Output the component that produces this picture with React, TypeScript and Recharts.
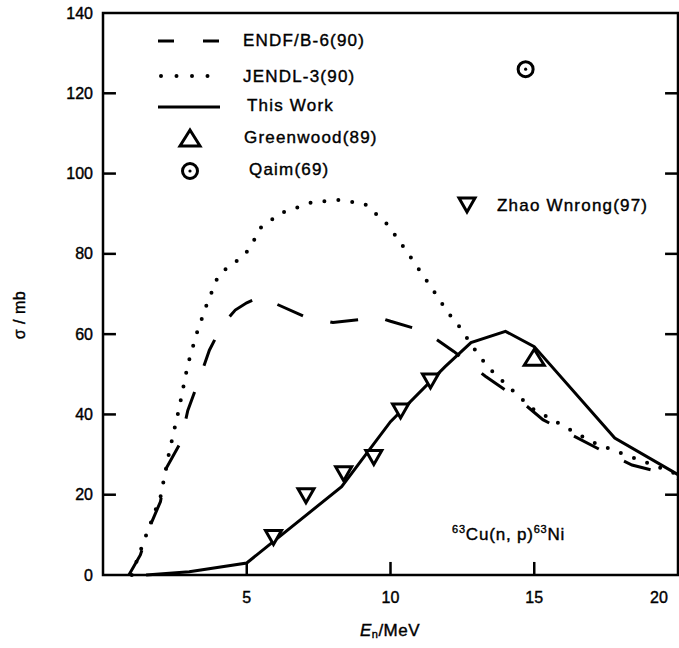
import React from 'react';
import { ComposedChart, Line, Scatter, XAxis, YAxis } from 'recharts';

// ENDF/B-6(90) evaluation
const endfE = [0.9, 1.3, 1.6, 2.0, 2.2, 2.7, 2.95, 3.3, 3.7, 4.15, 4.6, 5.0, 5.5, 6.0, 7.0, 8.0, 9.1, 9.5, 10.0, 11.2, 12.2, 13.3, 14.4, 15.3, 16.3, 17.4, 18.4, 19.5, 20];
const endfS = [0, 5, 11.6, 18.3, 26.6, 33, 41, 47.8, 56, 62.3, 66, 67.8, 69.4, 67.6, 64.4, 62.9, 63.8, 64.4, 63.2, 60.7, 55.7, 49.5, 44.1, 38.7, 34.9, 30.8, 27.4, 25.4, 24];

// JENDL-3(90) evaluation
const jendlE = [1.0, 1.4, 2.0, 2.3, 2.65, 2.95, 3.25, 3.6, 4.0, 4.4, 4.9, 5.2, 5.5, 6.2, 7.3, 8.2, 9.1, 9.9, 10.6, 11.3, 12.0, 12.4, 13.1, 13.5, 14.9, 17.0, 18.0, 18.9, 20];
const jendlS = [0, 8, 19.5, 30.5, 41.6, 52.4, 60, 67.2, 74.4, 77.1, 79.4, 82.7, 86.6, 90.2, 92.9, 93.4, 92.5, 87.3, 80.2, 72.9, 65.4, 61.8, 54.4, 51, 41.6, 33.2, 30.4, 28, 25];

// This Work
const workE = [1.5, 3, 5, 8.3, 10, 11.9, 12.8, 14, 15, 17.8, 20];
const workS = [0, 0.8, 3, 22, 38.2, 51.9, 57.9, 60.7, 56.9, 34.1, 25];

// Measurements
const greenE = [15.0];
const greenS = [54];
const qaimE = [14.7];
const qaimS = [126];
const zhaoE = [5.93, 7.06, 8.37, 9.42, 10.35, 11.39];
const zhaoS = [9.6, 20, 25.5, 29.5, 41.1, 48.6];

// axis range and tick values
const X_MIN = 0, X_MAX = 20, Y_MIN = 0, Y_MAX = 140;
const xInnerTicks = [5, 10, 15];
const yInnerTicks = [20, 40, 60, 80, 100, 120];
const X_TICK_LEN = 0.45; // x units (~13 px)
const Y_TICK_LEN = 3.25; // y units (~13 px)

const zip = (xs: number[], ys: number[]) => xs.map((x, i) => ({ x, y: ys[i] }));

const endf = zip(endfE, endfS);
const jendl = zip(jendlE, jendlS);
const work = zip(workE, workS);
const green = zip(greenE, greenS);
const qaim = zip(qaimE, qaimS);
const zhao = zip(zhaoE, zhaoS);

// plot frame and inward tick marks, expressed in data units
const frameBox = [
  { x: X_MIN, y: Y_MIN }, { x: X_MIN, y: Y_MAX }, { x: X_MAX, y: Y_MAX }, { x: X_MAX, y: Y_MIN }, { x: X_MIN, y: Y_MIN },
];
const tickSegs = [
  ...yInnerTicks.map((v) => [{ x: X_MIN, y: v }, { x: X_MIN + X_TICK_LEN, y: v }]),
  ...yInnerTicks.map((v) => [{ x: X_MAX - X_TICK_LEN, y: v }, { x: X_MAX, y: v }]),
  ...xInnerTicks.map((v) => [{ x: v, y: Y_MIN }, { x: v, y: Y_MIN + Y_TICK_LEN }]),
];

const FONT = '"Liberation Sans", Arial, Helvetica, sans-serif';
const INK = 'black';

function LeftTick(props: any) {
  const { x, y, payload } = props;
  return (
    <text x={x - 10} y={y} textAnchor="end" dominantBaseline="central" fontSize={16} fontFamily={FONT} fill="black" stroke="black" strokeWidth={0.4}>
      {payload.value}
    </text>
  );
}

function BottomTick(props: any) {
  const { x, y, payload } = props;
  const v = payload.value;
  if (v <= X_MIN) return <g />;
  return (
    <text x={v === X_MAX ? x - 12 : x} y={y + 22} textAnchor="middle" dominantBaseline="central" fontSize={16} fontFamily={FONT} fill="black" stroke="black" strokeWidth={0.4}>
      {v}
    </text>
  );
}

function DownTri(props: any) {
  const { cx, cy } = props;
  return <path d={`M${cx - 8},${cy - 6} L${cx + 8},${cy - 6} L${cx},${cy + 8} Z`} fill="#fff" stroke="black" strokeWidth={3} />;
}

function UpTri(props: any) {
  const { cx, cy } = props;
  return <path d={`M${cx - 10},${cy + 7} L${cx + 10},${cy + 7} L${cx},${cy - 9} Z`} fill="#fff" stroke="black" strokeWidth={3} />;
}

function CircDot(props: any) {
  const { cx, cy } = props;
  return (
    <g>
      <circle cx={cx} cy={cy} r={7.5} fill="#fff" stroke="black" strokeWidth={3} />
      <circle cx={cx} cy={cy} r={1.6} fill="black" />
    </g>
  );
}

const txt = { fontFamily: FONT, fontSize: 17, fill: INK, stroke: INK, strokeWidth: 0.4, letterSpacing: 1.2 } as const;

function Overlay() {
  return (
    <svg width={679} height={648} style={{ position: 'absolute', left: 0, top: 0, pointerEvents: 'none' }}>
      {/* legend */}
      <line x1={158} y1={41} x2={220} y2={41} stroke={INK} strokeWidth={3} strokeDasharray="16 29" />
      <text x={243} y={40} dominantBaseline="central" {...txt}>ENDF/B-6(90)</text>
      <line x1={161} y1={76} x2={210} y2={76} stroke={INK} strokeWidth={4} strokeDasharray="0 15.5" strokeLinecap="round" />
      <text x={243} y={76} dominantBaseline="central" {...txt}>JENDL-3(90)</text>
      <line x1={158} y1={107} x2={220} y2={107} stroke={INK} strokeWidth={3} />
      <text x={247} y={105} dominantBaseline="central" {...txt}>This Work</text>
      <UpTri cx={190} cy={139} />
      <text x={244} y={137} dominantBaseline="central" {...txt}>Greenwood(89)</text>
      <CircDot cx={190} cy={171} />
      <text x={249} y={169} dominantBaseline="central" {...txt}>Qaim(69)</text>
      <DownTri cx={467} cy={204} />
      <text x={497} y={205} dominantBaseline="central" {...txt}>Zhao Wnrong(97)</text>
      {/* reaction label */}
      <text x={452} y={540} {...txt} letterSpacing={0.8}>
        <tspan fontSize={11} dy={-7}>63</tspan>
        <tspan dy={7}>Cu(n, p)</tspan>
        <tspan fontSize={11} dy={-7}>63</tspan>
        <tspan dy={7}>Ni</tspan>
      </text>
      {/* axis titles */}
      <text x={390} y={630} textAnchor="middle" dominantBaseline="central" {...txt} letterSpacing={0.5}>
        <tspan fontStyle="italic">E</tspan>
        <tspan fontSize={11} dy={4}>n</tspan>
        <tspan dy={-4}>/MeV</tspan>
      </text>
      <text transform="translate(19,315) rotate(-90)" textAnchor="middle" dominantBaseline="central" {...txt} fontSize={16} letterSpacing={0.5}>
        σ / mb
      </text>
    </svg>
  );
}

export default function App() {
  return (
    <div style={{ position: 'absolute', left: 0, top: 0, width: 679, height: 648, background: '#fff' }}>
      <ComposedChart width={679} height={648} margin={{ top: 13, right: 1, bottom: 72, left: 102 }}>
        <XAxis dataKey="x" type="number" domain={[X_MIN, X_MAX]} tickCount={5} height={1} tickSize={0} tickMargin={0} axisLine={false} tickLine={false} tick={BottomTick} />
        <YAxis dataKey="y" type="number" domain={[Y_MIN, Y_MAX]} tickCount={8} width={1} tickSize={0} tickMargin={0} axisLine={false} tickLine={false} tick={LeftTick} />
        {/* frame and tick marks drawn as series through the chart scales */}
        <Line data={frameBox} dataKey="y" type="linear" stroke={INK} strokeWidth={2.5} strokeLinecap="square" strokeLinejoin="miter" dot={false} activeDot={false} isAnimationActive={false} legendType="none" />
        {tickSegs.map((seg, i) => (
          <Line key={`t${i}`} data={seg} dataKey="y" type="linear" stroke={INK} strokeWidth={2.5} dot={false} activeDot={false} isAnimationActive={false} legendType="none" />
        ))}
        <Line data={jendl} dataKey="y" type="linear" stroke={INK} strokeWidth={4} strokeDasharray="0 14" strokeLinecap="round" dot={false} activeDot={false} isAnimationActive={false} />
        <Line data={endf} dataKey="y" type="linear" stroke={INK} strokeWidth={3} strokeDasharray="28 28" dot={false} activeDot={false} isAnimationActive={false} />
        <Line data={work} dataKey="y" type="linear" stroke={INK} strokeWidth={3} dot={false} activeDot={false} isAnimationActive={false} />
        <Scatter data={zhao} dataKey="y" shape={DownTri} isAnimationActive={false} />
        <Scatter data={green} dataKey="y" shape={UpTri} isAnimationActive={false} />
        <Scatter data={qaim} dataKey="y" shape={CircDot} isAnimationActive={false} />
      </ComposedChart>
      <Overlay />
    </div>
  );
}
